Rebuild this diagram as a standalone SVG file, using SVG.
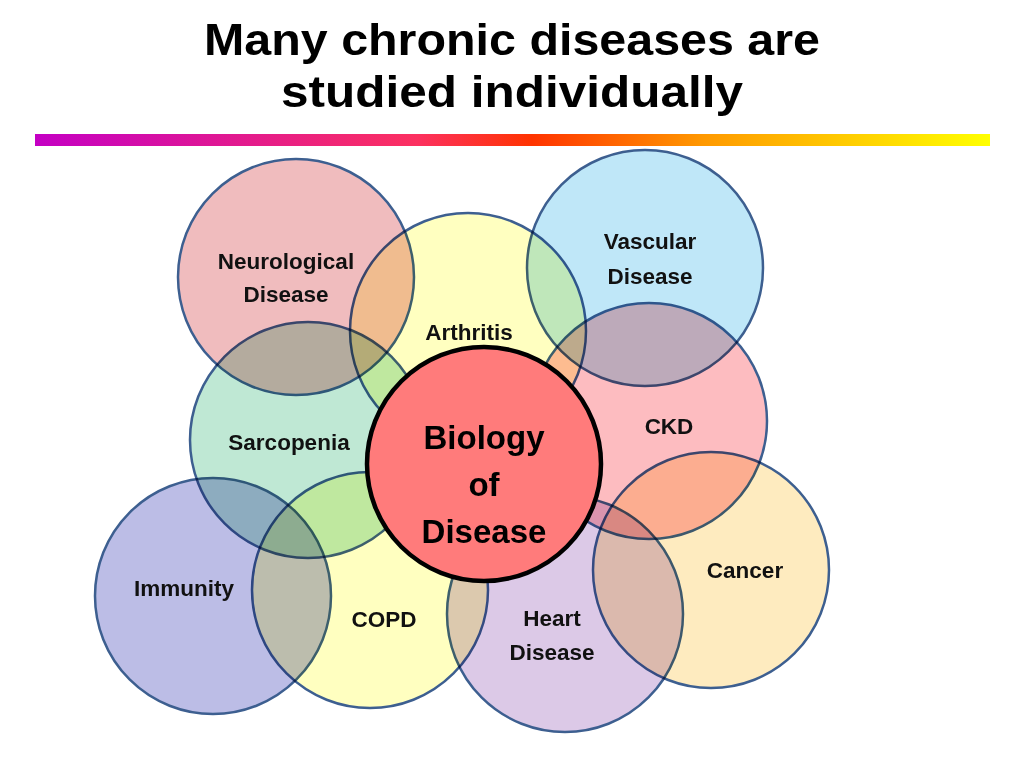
<svg xmlns="http://www.w3.org/2000/svg" width="1024" height="768" viewBox="0 0 1024 768">
<defs>
<linearGradient id="bar" x1="0" y1="0" x2="1" y2="0">
<stop offset="0" stop-color="#c400c4"/>
<stop offset="0.4" stop-color="#fc3060"/>
<stop offset="0.52" stop-color="#ff3300"/>
<stop offset="0.7" stop-color="#ff9900"/>
<stop offset="1" stop-color="#ffff00"/>
</linearGradient>
</defs>
<style>
.c{stroke:#3d5f90;stroke-width:2.5;mix-blend-mode:multiply}
.t{font-family:"Liberation Sans",Arial,sans-serif;font-weight:bold;font-size:22.5px;fill:#111;text-anchor:middle}
.title{font-family:"Liberation Sans",Arial,sans-serif;font-weight:bold;font-size:45px;fill:#000;text-anchor:middle}
.big{font-family:"Liberation Sans",Arial,sans-serif;font-weight:bold;font-size:33px;fill:#000;text-anchor:middle}
</style>
<rect width="1024" height="768" fill="#fff"/>
<text class="title" x="512" y="55" textLength="616" lengthAdjust="spacingAndGlyphs">Many chronic diseases are</text>
<text class="title" x="512" y="107" textLength="462" lengthAdjust="spacingAndGlyphs">studied individually</text>
<rect x="35" y="134" width="955" height="12" fill="url(#bar)"/>
<g id="circles" style="isolation:isolate">
<g id="neurological"><circle class="c" cx="296" cy="277" r="118" fill="#f0bcbe"/></g>
<g id="arthritis"><circle class="c" cx="468" cy="331" r="118" fill="#ffffc0"/></g>
<g id="vascular"><circle class="c" cx="645" cy="268" r="118" fill="#bfe7f8"/></g>
<g id="ckd"><circle class="c" cx="649" cy="421" r="118" fill="#fdbcc0"/></g>
<g id="sarcopenia"><circle class="c" cx="308" cy="440" r="118" fill="#bfe8d4"/></g>
<g id="immunity"><circle class="c" cx="213" cy="596" r="118" fill="#bcbde6"/></g>
<g id="copd"><circle class="c" cx="370" cy="590" r="118" fill="#ffffc0"/></g>
<g id="heart"><circle class="c" cx="565" cy="614" r="118" fill="#dcc9e7"/></g>
<g id="cancer"><circle class="c" cx="711" cy="570" r="118" fill="#feebbf"/></g>
</g>
<g id="biology"><circle cx="484" cy="464" r="117" fill="#ff7b7b" stroke="#000" stroke-width="4.5"/>
<text class="big" x="484" y="449">Biology</text>
<text class="big" x="484" y="496">of</text>
<text class="big" x="484" y="543">Disease</text></g>
<g id="labels">
<text class="t" x="286" y="269">Neurological</text>
<text class="t" x="286" y="302">Disease</text>
<text class="t" x="469" y="340">Arthritis</text>
<text class="t" x="650" y="249">Vascular</text>
<text class="t" x="650" y="284">Disease</text>
<text class="t" x="669" y="434">CKD</text>
<text class="t" x="289" y="450">Sarcopenia</text>
<text class="t" x="184" y="596">Immunity</text>
<text class="t" x="384" y="627">COPD</text>
<text class="t" x="552" y="626">Heart</text>
<text class="t" x="552" y="660">Disease</text>
<text class="t" x="745" y="578">Cancer</text>
</g>
</svg>
